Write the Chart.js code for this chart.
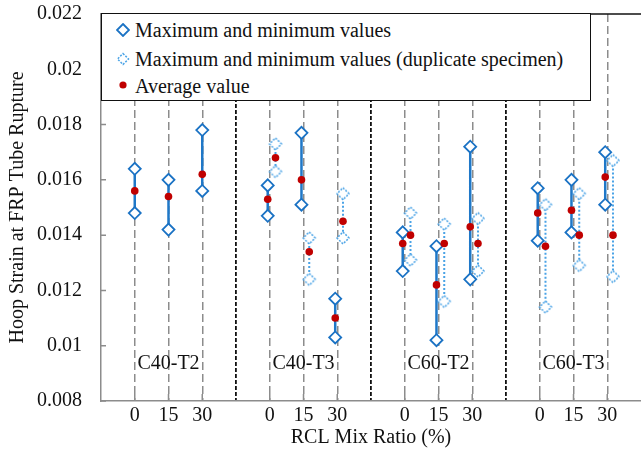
<!DOCTYPE html>
<html>
<head>
<meta charset="utf-8">
<script src="https://cdn.jsdelivr.net/npm/chart.js@4.4.0/dist/chart.umd.min.js"></script>
<style>
  body { margin: 0; background: #fff; }
  #wrap { position: relative; width: 641px; height: 452px; }
  #legend {
    position: absolute; left: 101px; top: 13px; width: 490px; height: 88px;
    box-sizing: border-box; border: 1.5px solid #111; background: #fff;
    font-family: 'Liberation Serif', 'Times New Roman', serif; font-size: 20px; color: #111;
  }
  .item { position: absolute; left: 14px; height: 24px; line-height: 24px; white-space: nowrap; }
  .item svg { position: absolute; left: 0; top: 5px; }
  .item span { position: absolute; left: 19px; top: 0; }
</style>
</head>
<body>
<div id="wrap">
  <canvas id="chart" width="641" height="452"></canvas>
  <div id="legend">
    <div class="item" style="top: 4px">
      <svg width="14" height="14"><path d="M7 1 L13 7 L7 13 L1 7 Z" fill="#fff" stroke="#1a72c4" stroke-width="1.8"/></svg>
      <span>Maximum and minimum values</span>
    </div>
    <div class="item" style="top: 33px">
      <svg width="14" height="14"><path d="M7 1.5 L12.5 7 L7 12.5 L1.5 7 Z" fill="#fff" stroke="#4aa3e6" stroke-width="1.5" stroke-dasharray="2 1.4"/></svg>
      <span>Maximum and minimum values (duplicate specimen)</span>
    </div>
    <div class="item" style="top: 60px">
      <svg width="14" height="14"><circle cx="7" cy="6" r="3.6" fill="#c00000"/></svg>
      <span>Average value</span>
    </div>
  </div>
</div>
<script>
const categories = ['C40-T2', 'C40-T3', 'C60-T2', 'C60-T3']
const mixRatios = [0, 15, 30]
const yTicks = [0.008, 0.01, 0.012, 0.014, 0.016, 0.018, 0.02, 0.022]

// one entry per category x mix ratio (C40-T2: 0,15,30, C40-T3: 0,15,30, ...)
const mainMax = [0.0164, 0.0160, 0.0178, 0.0158, 0.0177, 0.0117, 0.0141, 0.0136, 0.0172, 0.0157, 0.0160, 0.0170]
const mainMin = [0.0148, 0.0142, 0.0156, 0.0147, 0.0151, 0.0103, 0.0127, 0.0102, 0.0124, 0.0138, 0.0141, 0.0151]
const mainAvg = [0.0156, 0.0154, 0.0162, 0.0153, 0.0160, 0.0110, 0.0137, 0.0122, 0.0143, 0.0148, 0.0149, 0.0161]
const dupMax = [null, null, null, 0.0173, 0.0139, 0.0155, 0.0148, 0.0144, 0.0146, 0.0151, 0.0155, 0.0167]
const dupMin = [null, null, null, 0.0163, 0.0124, 0.0139, 0.0131, 0.0116, 0.0127, 0.0114, 0.0129, 0.0125]
const dupAvg = [null, null, null, 0.0168, 0.0134, 0.0145, 0.0140, 0.0137, 0.0137, 0.0136, 0.0140, 0.0140]

const SERIF = "'Liberation Serif', 'Times New Roman', serif"
const GRID = '#8c8c8c'
const step = mixRatios.length + 1

// x slot for entry i: each category takes 4 units, ratios at 1,2,3
const slotX = i => Math.floor(i / mixRatios.length) * step + (i % mixRatios.length) + 1
const mainOffset = i => (dupMax[i] != null ? -0.06 : 0)
const dupOffset = () => 0.17

const rangePoints = (hiArr, loArr, offset) => {
    const pts = []
    hiArr.forEach((hi, i) => {
        if (hi == null) return
        const x = slotX(i) + offset(i)
        pts.push({ x, y: hi }, { x, y: loArr[i] }, { x, y: null })
    })
    return pts
}

const avgPoints = []
mainAvg.forEach((v, i) => avgPoints.push({ x: slotX(i) + mainOffset(i), y: v }))
dupAvg.forEach((v, i) => { if (v != null) avgPoints.push({ x: slotX(i) + dupOffset(), y: v }) })

// dashed diamond marker for the duplicate specimen
const dupMarker = (() => {
    const c = document.createElement('canvas')
    c.width = 16
    c.height = 16
    const g = c.getContext('2d')
    g.beginPath()
    g.moveTo(8, 2); g.lineTo(14, 8); g.lineTo(8, 14); g.lineTo(2, 8); g.closePath()
    g.fillStyle = '#fff'
    g.fill()
    g.setLineDash([2, 1.4])
    g.lineWidth = 1.5
    g.strokeStyle = '#4aa3e6'
    g.stroke()
    return c
})()

const xTicks = []
for (let v = 1; v < categories.length * step; v++) xTicks.push(v)

// inner tick marks, top frame line and category names
const frame = {
    id: 'frame',
    beforeDatasetsDraw(chart) {
        const { ctx, chartArea: a, scales: { x, y } } = chart
        ctx.save()
        ctx.strokeStyle = GRID
        ctx.lineWidth = 1.5
        ctx.beginPath()
        xTicks.forEach(v => {
            if (v % step === 0) return
            const px = x.getPixelForValue(v)
            ctx.moveTo(px, a.bottom); ctx.lineTo(px, a.bottom - 7)
        })
        yTicks.forEach(v => {
            const py = y.getPixelForValue(v)
            ctx.moveTo(a.left, py); ctx.lineTo(a.left + 5, py)
        })
        ctx.stroke()
        ctx.strokeStyle = '#111'
        ctx.beginPath()
        ctx.moveTo(a.left, a.top); ctx.lineTo(a.right, a.top)
        ctx.stroke()
        ctx.fillStyle = '#111'
        ctx.font = '20px ' + SERIF
        ctx.textAlign = 'center'
        ctx.textBaseline = 'middle'
        categories.forEach((c, g) => {
            ctx.fillText(c, x.getPixelForValue(g * step + 2), a.bottom - 37)
        })
        ctx.restore()
    }
}

new Chart(document.getElementById('chart'), {
    type: 'scatter',
    data: {
        datasets: [
            {
                label: 'Average value',
                data: avgPoints,
                pointStyle: 'circle',
                pointRadius: 3.8,
                backgroundColor: '#c00000',
                borderColor: '#c00000',
                borderWidth: 0,
                order: 0
            },
            {
                label: 'Maximum and minimum values',
                data: rangePoints(mainMax, mainMin, mainOffset),
                showLine: true,
                spanGaps: false,
                borderColor: '#1f78c8',
                borderWidth: 2.5,
                pointStyle: 'rectRot',
                pointRadius: 6,
                pointBorderWidth: 1.8,
                pointBorderColor: '#1a72c4',
                pointBackgroundColor: '#fff',
                order: 1
            },
            {
                label: 'Maximum and minimum values (duplicate specimen)',
                data: rangePoints(dupMax, dupMin, dupOffset),
                showLine: true,
                spanGaps: false,
                borderColor: '#4aa3e6',
                borderWidth: 2,
                borderDash: [2, 2],
                pointStyle: dupMarker,
                pointRadius: 6,
                order: 2
            }
        ]
    },
    options: {
        responsive: false,
        animation: false,
        events: [],
        layout: { autoPadding: false, padding: { top: 14, right: 0, left: 0, bottom: 0 } },
        plugins: { legend: { display: false }, tooltip: { enabled: false } },
        scales: {
            x: {
                type: 'linear',
                min: 0,
                max: categories.length * step,
                afterBuildTicks: scale => { scale.ticks = xTicks.map(v => ({ value: v })) },
                afterFit: scale => {
                    scale.height = 51
                    scale.paddingLeft = 0
                    scale.paddingRight = 0
                },
                ticks: {
                    autoSkip: false,
                    maxRotation: 0,
                    padding: 3,
                    color: '#111',
                    font: { family: SERIF, size: 20 },
                    callback: v => (v % step ? String(mixRatios[(v % step) - 1]) : '')
                },
                grid: {
                    drawTicks: false,
                    color: c => (c.tick && c.tick.value % step === 0 ? '#111' : GRID),
                    lineWidth: c => (c.tick && c.tick.value % step === 0 ? 1.8 : 1.5)
                },
                border: {
                    display: true,
                    color: GRID,
                    width: 1.5,
                    dash: c => (c.tick && c.tick.value % step === 0 ? [4, 2] : [8, 4])
                },
                title: {
                    display: true,
                    text: 'RCL Mix Ratio (%)',
                    color: '#111',
                    font: { family: SERIF, size: 20 },
                    padding: { top: 0, bottom: 2 }
                }
            },
            y: {
                min: 0.008,
                max: 0.022,
                afterBuildTicks: scale => { scale.ticks = yTicks.map(v => ({ value: v })) },
                afterFit: scale => {
                    scale.width = 101
                    scale.paddingTop = 0
                    scale.paddingBottom = 0
                },
                ticks: {
                    padding: 11,
                    color: '#111',
                    font: { family: SERIF, size: 20 },
                    callback: v => String(Number(v.toFixed(3)))
                },
                grid: { display: false },
                border: { display: true, color: GRID, width: 1.5 },
                title: {
                    display: true,
                    text: 'Hoop Strain at FRP Tube Rupture',
                    color: '#111',
                    font: { family: SERIF, size: 20 },
                    padding: { top: 6, bottom: 0 }
                }
            }
        }
    },
    plugins: [frame]
})
</script>
</body>
</html>
